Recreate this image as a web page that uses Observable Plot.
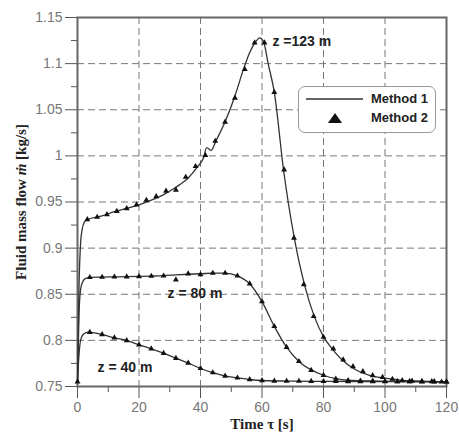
<!DOCTYPE html>
<html>
<head>
<meta charset="utf-8">
<script src="https://cdn.jsdelivr.net/npm/d3@7"></script>
<script src="https://cdn.jsdelivr.net/npm/@observablehq/plot@0.6"></script>
<style>
  body { margin: 0; background: #fff; }
  #wrap { position: relative; width: 459px; height: 439px; }
  #legend { position: absolute; left: 298px; top: 86px; width: 136px; height: 45px;
    border: 1.5px solid #999; border-radius: 7px; background: #fff;
    font: bold 13px "Liberation Sans", Arial, sans-serif; color: #222; }
  #legend span { position: absolute; right: 7px; line-height: 14px; }
</style>
</head>
<body>
<div id="wrap"></div>
<script>
// ---- axes / ticks ----
const xMajor = [0, 20, 40, 60, 80, 100, 120];
const xMinor = [10, 30, 50, 70, 90, 110];
const xGrid = [20, 40, 60, 80, 100];
const yMajor = [0.75, 0.8, 0.85, 0.9, 0.95, 1.0, 1.05, 1.1, 1.15];
const yTickLabels = ["0.75", "0.8", "0.85", "0.9", "0.95", "1", "1.05", "1.1", "1.15"];
const yMinor = [0.775, 0.825, 0.875, 0.925, 0.975, 1.025, 1.075, 1.125];
const yGrid = [0.8, 0.85, 0.9, 0.95, 1.0, 1.05, 1.1];

// ---- Method 1 (lines) ----
const m1z123T = [0, 0.5, 1, 1.5, 2.2, 3.2, 8, 12, 16, 20, 24, 28, 32, 36, 39, 41, 42, 43.5, 45, 48, 51, 54, 56, 58, 59.2, 60.5, 62, 64, 67, 70.5, 74, 77, 80, 83, 86, 90, 95, 100, 105, 110, 120];
const m1z123V = [0.755, 0.86, 0.905, 0.92, 0.928, 0.931, 0.935, 0.9395, 0.943, 0.947, 0.952, 0.958, 0.966, 0.976, 0.988, 0.998, 1.009, 1.006, 1.016, 1.037, 1.063, 1.094, 1.112, 1.124, 1.128, 1.124, 1.10, 1.069, 0.985, 0.911, 0.858, 0.826, 0.804, 0.790, 0.779, 0.769, 0.762, 0.759, 0.757, 0.756, 0.755];

const m1z80T = [0, 0.5, 1, 1.5, 2.5, 4, 8, 12, 16, 20, 24, 28, 32, 36, 40, 44, 48, 52, 56, 60, 64, 68, 72, 76, 80, 84, 88, 95, 105, 120];
const m1z80V = [0.755, 0.83, 0.855, 0.862, 0.867, 0.8683, 0.8686, 0.8688, 0.869, 0.8693, 0.8697, 0.8702, 0.871, 0.8717, 0.8722, 0.8729, 0.8729, 0.8700, 0.8614, 0.842, 0.8152, 0.7926, 0.7772, 0.768, 0.7622, 0.7585, 0.7568, 0.756, 0.7555, 0.755];

const m1z40T = [0, 0.5, 1, 2, 3.5, 8, 12, 16, 20, 24, 28, 32, 36, 40, 44, 48, 52, 56, 60, 70, 80, 100, 120];
const m1z40V = [0.755, 0.785, 0.800, 0.807, 0.809, 0.8064, 0.8028, 0.7999, 0.7952, 0.7909, 0.7861, 0.7807, 0.7755, 0.7695, 0.765, 0.7614, 0.7594, 0.7576, 0.7565, 0.7558, 0.7556, 0.7553, 0.755];

// ---- Method 2 (triangles) ----
const m2z123T = [0, 3.2, 6.4, 9.6, 12.8, 16, 19.2, 22.4, 25.6, 28.8, 32, 35.2, 38.4, 41.6, 44.8, 48, 51.2, 54.4, 57.6, 60.8, 64, 67.2, 70.4, 73.6, 76.8, 80, 83.2, 86.4, 89.6, 92.8, 96, 99.2, 102.4, 105.6, 108.8, 112, 115.2, 118.4];
const m2z123V = [0.755, 0.931, 0.9336, 0.9365, 0.940, 0.943, 0.947, 0.952, 0.956, 0.962, 0.963, 0.977, 0.9886, 1.0005, 1.016, 1.0367, 1.0627, 1.0938, 1.1226, 1.1226, 1.069, 0.985, 0.911, 0.8606, 0.826, 0.8035, 0.791, 0.779, 0.7717, 0.7663, 0.762, 0.760, 0.758, 0.7565, 0.756, 0.7555, 0.7555, 0.755];

const m2z80T = [4, 8, 12, 16, 20, 24, 28, 32, 36, 40, 44, 48, 52, 56, 60, 64, 68, 72, 76, 80, 84, 88, 92, 96, 100, 104, 108, 112, 116, 120];
const m2z80V = [0.8683, 0.8686, 0.8688, 0.869, 0.8693, 0.8697, 0.870, 0.8657, 0.8722, 0.8715, 0.8729, 0.8729, 0.870, 0.8614, 0.842, 0.8152, 0.7926, 0.7772, 0.7677, 0.7622, 0.7583, 0.7565, 0.756, 0.7558, 0.7556, 0.7555, 0.7555, 0.7553, 0.7553, 0.755];

const m2z40T = [4, 8, 12, 16, 20, 24, 28, 32, 36, 40, 44, 48, 52, 56, 60, 64, 68, 72, 76, 80, 84, 88, 92, 96, 100, 104, 108, 112, 116, 120];
const m2z40V = [0.8089, 0.8064, 0.8028, 0.7999, 0.7952, 0.7909, 0.7861, 0.7807, 0.7755, 0.7697, 0.765, 0.7614, 0.7594, 0.7576, 0.7565, 0.756, 0.7558, 0.7558, 0.7557, 0.7556, 0.7556, 0.7555, 0.7555, 0.7554, 0.7554, 0.7553, 0.7553, 0.7553, 0.7552, 0.755];

// ---- annotations ----
const labelText = ["z =123 m", "z = 80 m", "z = 40 m"];
const labelT = [63.4, 29.3, 6.5];
const labelV = [1.124, 0.851, 0.7706];

const toRows = (T, V, s) => T.map((t, i) => ({t, v: V[i], s}));
const lines = [
  ...toRows(m1z123T, m1z123V, "123"),
  ...toRows(m1z80T, m1z80V, "80"),
  ...toRows(m1z40T, m1z40V, "40")
];
const pts = [
  ...toRows(m2z123T, m2z123V, "123"),
  ...toRows(m2z80T, m2z80V, "80"),
  ...toRows(m2z40T, m2z40V, "40")
];
const labels = labelText.map((text, i) => ({text, t: labelT[i], v: labelV[i]}));

const tickFont = "'Liberation Sans', Arial, sans-serif";
const titleFont = "'Liberation Serif', 'Times New Roman', serif";

const chart = Plot.plot({
  width: 459,
  height: 439,
  marginLeft: 77,
  marginRight: 13,
  marginTop: 17,
  marginBottom: 53,
  x: {domain: [0, 120]},
  y: {domain: [0.75, 1.15]},
  marks: [
    Plot.gridX(xGrid, {stroke: "#777", strokeOpacity: 1, strokeDasharray: "7,4"}),
    Plot.gridY(yGrid, {stroke: "#777", strokeOpacity: 1, strokeDasharray: "7,4"}),
    Plot.axisX(xMinor, {tickSize: 6, tickFormat: () => "", stroke: "#555", label: null}),
    Plot.axisY(yMinor, {tickSize: 6, tickFormat: () => "", stroke: "#555", label: null}),
    Plot.axisX(xMajor, {tickSize: 12, tickPadding: 4, fontSize: 14, fontFamily: tickFont, fill: "#777", stroke: "#555", label: null}),
    Plot.axisY(yMajor, {tickSize: 12, tickPadding: 3, fontSize: 14, fontFamily: tickFont, fill: "#777", stroke: "#555",
      tickFormat: (d) => yTickLabels[yMajor.indexOf(d)], label: null}),
    Plot.axisX([], {label: "Time τ [s]", labelAnchor: "center", labelArrow: "none", labelOffset: 42,
      fontFamily: titleFont, fontWeight: "bold", fontSize: 15, fill: "#222", tickSize: 0}),
    Plot.axisY([], {label: "Fluid mass flow ṁ [kg/s]", labelAnchor: "center", labelArrow: "none", labelOffset: 62,
      fontFamily: titleFont, fontWeight: "bold", fontSize: 15, fill: "#222", tickSize: 0}),
    Plot.frame({stroke: "#666", strokeWidth: 2}),
    Plot.line(lines, {x: "t", y: "v", z: "s", stroke: "#333", strokeWidth: 1.3, curve: "monotone-x"}),
    Plot.dot(pts, {x: "t", y: "v", symbol: "triangle", fill: "#111", r: 2.2}),
    Plot.text(labels, {x: "t", y: "v", text: "text", textAnchor: "start", fontSize: 14, fontWeight: "bold",
      fontFamily: tickFont, fill: "#222"})
  ]
});

document.getElementById("wrap").appendChild(chart);

// italic m-dot in the y label
chart.querySelectorAll("text").forEach((el) => {
  if (el.textContent === "Fluid mass flow ṁ [kg/s]") {
    el.innerHTML = 'Fluid mass flow <tspan font-style="italic">ṁ</tspan> [kg/s]';
  }
});

// legend
const legend = document.createElement("div");
legend.id = "legend";
legend.innerHTML = `
  <svg width="136" height="45" style="position:absolute;left:0;top:0">
    <line x1="7" x2="64" y1="12" y2="12" stroke="#333" stroke-width="1.3"></line>
    <polygon points="29,36 43,36 36,26" fill="#111"></polygon>
  </svg>
  <span style="top:5px">Method 1</span>
  <span style="top:24px">Method 2</span>`;
document.getElementById("wrap").appendChild(legend);
</script>
</body>
</html>
